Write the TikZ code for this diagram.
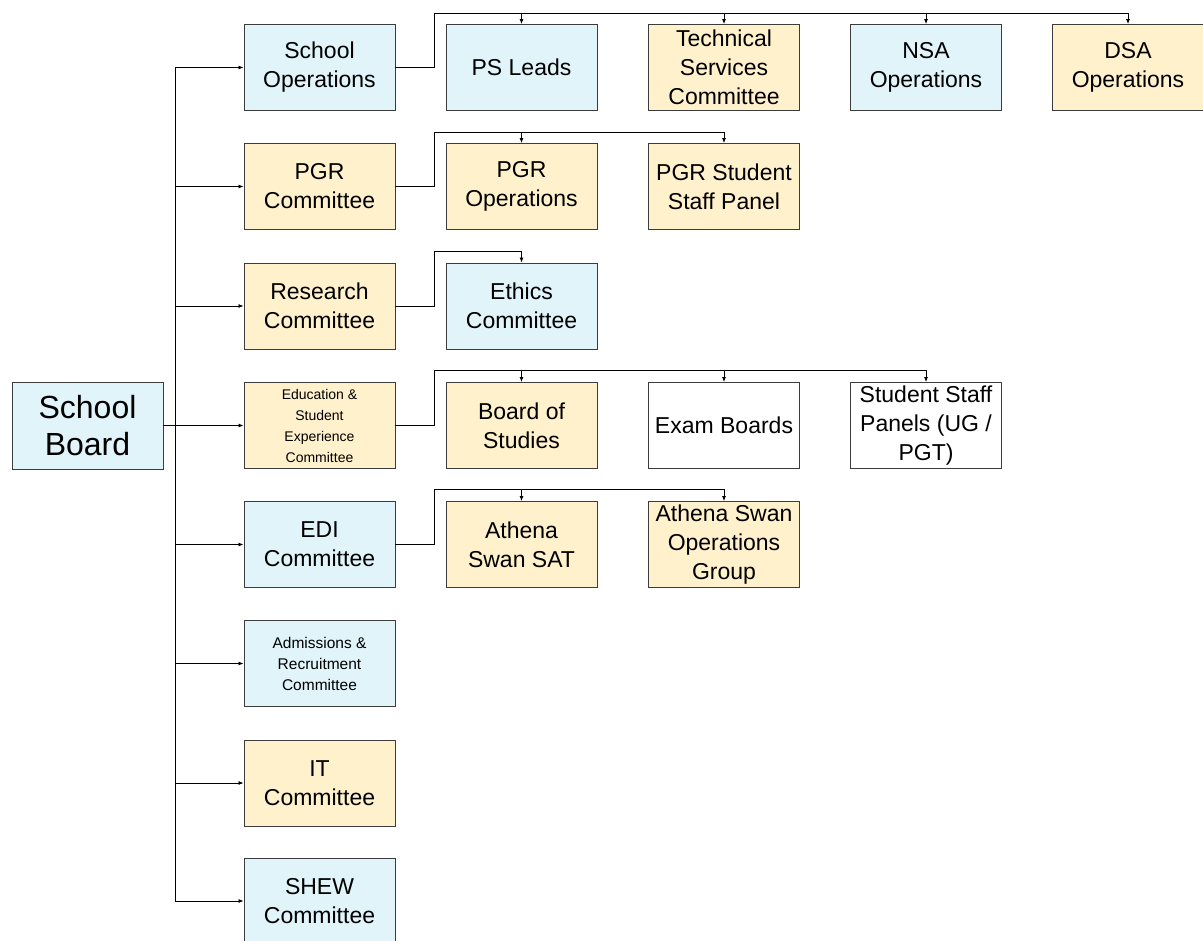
\documentclass[tikz,border=0pt]{standalone}
\usepackage{fontspec}
\setmainfont{Liberation Sans}
\usetikzlibrary{arrows.meta}
\definecolor{bluebox}{RGB}{224,244,250}
\definecolor{orangebox}{RGB}{255,241,204}
\definecolor{edgegray}{RGB}{60,60,60}
\begin{document}
\begin{tikzpicture}[x=1pt,y=-1pt,
  box/.style={draw=edgegray, line width=0.9pt, minimum width=151pt, minimum height=86pt, inner sep=2pt, align=center, font=\fontsize{23}{29}\selectfont, text=black},
  bl/.style={box, fill=bluebox},
  og/.style={box, fill=orangebox},
  wh/.style={box, fill=white},
  small/.style={font=\fontsize{15.5}{21}\selectfont},
  big/.style={font=\fontsize{32}{37}\selectfont},
  conn/.style={draw=black, line width=0.8pt},
  arr/.style={conn, -{Latex[length=5pt,width=4pt]}}
]
\useasboundingbox (0,0) rectangle (1203,941);
\fill[white] (0,0) rectangle (1203,941);

% root
\node[bl, big, minimum height=87pt] (sb) at (87.5,425.5) {School\\Board};

% column 1
\node[bl] (so)  at (319.5,67.5)  {School\\Operations};
\node[og] (pgr) at (319.5,186.5) {PGR\\Committee};
\node[og] (res) at (319.5,306)   {Research\\Committee};
\node[og, font=\fontsize{14}{21}\selectfont] (edu) at (319.5,425.5) {Education \&\\Student\\Experience\\Committee};
\node[bl, small] (adm) at (319.5,663.5) {Admissions \&\\Recruitment\\Committee};
\node[bl] (edi) at (319.5,544.5) {EDI\\Committee};
\node[og] (it)  at (319.5,783)   {IT\\Committee};
\node[bl] (shew) at (319.5,901)  {SHEW\\Committee};

% row 1 children
\node[bl] (psl) at (521.5,67.5) {PS Leads};
\node[og] (tsc) at (724,67.5) {Technical\\Services\\Committee};
\node[bl] (nsa) at (926,67.5) {NSA\\Operations};
\node[og] (dsa) at (1128,67.5) {DSA\\Operations};

% row 2 children
\node[og] (pgro) at (521.5,186.5) {PGR\\Operations};
\node[og] (pgrs) at (724,186.5) {PGR Student\\Staff Panel};

% row 3 children
\node[bl] (eth) at (521.5,306) {Ethics\\Committee};

% row 4 children
\node[og] (bos) at (521.5,425.5) {Board of\\Studies};
\node[wh] (exb) at (724,425.5) {Exam Boards};
\node[wh] (ssp) at (926,425.5) {Student Staff\\Panels (UG /\\PGT)};

% row 5 children
\node[og] (ass) at (521.5,544.5) {Athena\\Swan SAT};
\node[og] (aso) at (724,544.5) {Athena Swan\\Operations\\Group};

% trunk
\coordinate (tt) at (175,67.5);
\coordinate (tb) at (175,901);
\draw[conn] (tt) -- (tb);
\draw[arr] (sb.east) -- (edu.west);
\foreach \n in {so,pgr,res,edi,adm,it,shew}{
  \draw[arr] (tt |- \n.west) -- (\n.west);
}

% sub-branches
\coordinate (r1) at (434,13);
\coordinate (r2) at (434,132);
\coordinate (r3) at (434,251);
\coordinate (r4) at (434,370);
\coordinate (r5) at (434,489);

\draw[conn] (so.east) -| (r1) -- (dsa.north |- r1);
\foreach \n in {psl,tsc,nsa,dsa}{\draw[arr] (\n.north |- r1) -- (\n.north);}

\draw[conn] (pgr.east) -| (r2) -- (pgrs.north |- r2);
\foreach \n in {pgro,pgrs}{\draw[arr] (\n.north |- r2) -- (\n.north);}

\draw[conn] (res.east) -| (r3) -- (eth.north |- r3);
\draw[arr] (eth.north |- r3) -- (eth.north);

\draw[conn] (edu.east) -| (r4) -- (ssp.north |- r4);
\foreach \n in {bos,exb,ssp}{\draw[arr] (\n.north |- r4) -- (\n.north);}

\draw[conn] (edi.east) -| (r5) -- (aso.north |- r5);
\foreach \n in {ass,aso}{\draw[arr] (\n.north |- r5) -- (\n.north);}
\end{tikzpicture}
\end{document}
